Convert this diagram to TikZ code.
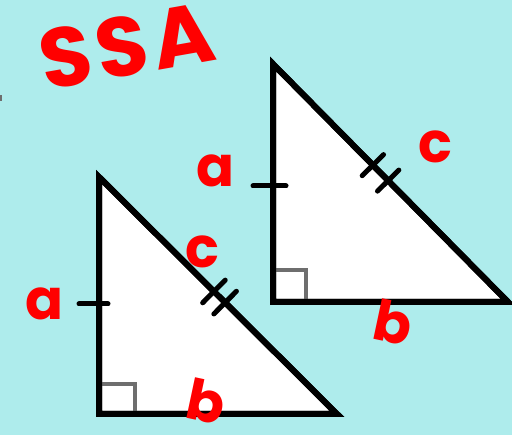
\documentclass[tikz,border=0pt]{standalone}
\usepackage{fontspec}
\setmainfont{Poppins}
\usetikzlibrary{calc}
\definecolor{bgcyan}{RGB}{174,236,236}
\definecolor{markgray}{RGB}{110,110,110}
\tikzset{
  side/.style={draw=black, fill=white, line width=6pt},
  tick/.style={draw=black, line width=5pt, line cap=round},
  rightmark/.style={draw=markgray, line width=4pt},
  hand/.style={text=red, inner sep=0pt, font=\bfseries\fontsize{56}{56}\selectfont},
}
\begin{document}
\begin{tikzpicture}[x=1pt,y=-1pt]
\fill[bgcyan] (0,0) rectangle (512,435);
\useasboundingbox (0,0) rectangle (512,435);
\fill[markgray] (0,95) rectangle (2,101);
% title
\node[hand, font=\bfseries\fontsize{84}{84}\selectfont\addfontfeatures{LetterSpace=6}, rotate=10] (title) at (127,46) {SSA};
% right triangle
\coordinate (A1) at (273,64);
\coordinate (B1) at (273,302);
\coordinate (C1) at (508,302);
\path[side] (A1) -- (B1) -- (C1) -- cycle;
\draw[rightmark] (273,270) -- (306,270) -- (306,299);
\path[side, fill=none] (A1) -- (B1) -- (C1) -- cycle;
\coordinate (M1) at (273,186);
\draw[tick] ($(M1)+(-20,0)$) -- ($(M1)+(13,0)$);
\coordinate (H1a) at ($(A1)!0.425!(C1)$);
\coordinate (H1b) at ($(A1)!0.49!(C1)$);
\draw[tick] ($(H1a)!15pt!90:(C1)$) -- ($(H1a)!15pt!-90:(C1)$);
\draw[tick] ($(H1b)!15pt!90:(C1)$) -- ($(H1b)!15pt!-90:(C1)$);
\node[hand] (a1) at (216,171) {a};
\node[hand] (c1) at (435,147) {c};
\node[hand, rotate=-12] (b1) at (393,322) {b};
% left triangle
\coordinate (A2) at (99,177);
\coordinate (B2) at (99,414);
\coordinate (C2) at (337,414);
\path[side] (A2) -- (B2) -- (C2) -- cycle;
\draw[rightmark] (99,384) -- (135,384) -- (135,411);
\path[side, fill=none] (A2) -- (B2) -- (C2) -- cycle;
\coordinate (M2) at (99,304);
\draw[tick] ($(M2)+(-20,0)$) -- ($(M2)+(9,0)$);
\coordinate (H2a) at ($(A2)!0.483!(C2)$);
\coordinate (H2b) at ($(A2)!0.53!(C2)$);
\draw[tick] ($(H2a)!16pt!90:(C2)$) -- ($(H2a)!16pt!-90:(C2)$);
\draw[tick] ($(H2b)!16pt!90:(C2)$) -- ($(H2b)!16pt!-90:(C2)$);
\node[hand] (a2) at (45,304) {a};
\node[hand] (c2) at (202,252) {c};
\node[hand, rotate=-12] (b2) at (206,401) {b};
\end{tikzpicture}
\end{document}
